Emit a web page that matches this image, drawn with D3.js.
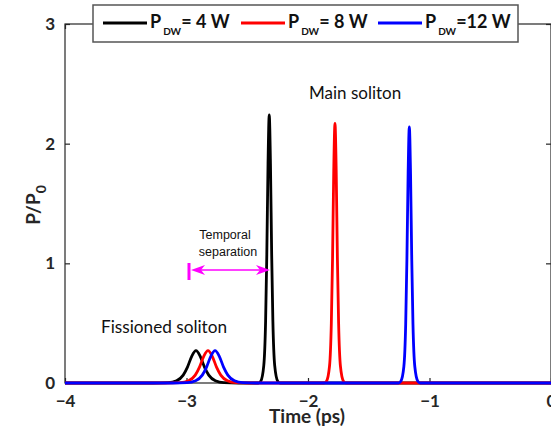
<!DOCTYPE html>
<html><head><meta charset="utf-8">
<script src="https://cdn.jsdelivr.net/npm/d3@7"></script>
<style>body{margin:0;background:#fff}svg{display:block}</style>
</head><body><div id="chart"></div>
<script>
// Data: [time (ps), P/P0]
const seriesBlack = [[-4,0],[-3.272,0],[-3.152,0.003],[-3.082,0.019],[-3.027,0.066],[-2.992,0.133],[-2.957,0.223],[-2.922,0.27],[-2.887,0.223],[-2.852,0.133],[-2.817,0.066],[-2.762,0.019],[-2.692,0.003],[-2.572,0],
  [-2.409,0],[-2.389,0.015],[-2.364,0.145],[-2.349,0.515],[-2.339,1.075],[-2.329,1.835],[-2.319,2.24],[-2.309,1.835],[-2.299,1.075],[-2.289,0.515],[-2.274,0.145],[-2.249,0.015],[-2.229,0],[0,0]];
const seriesRed = [[-4,0],[-3.173,0],[-3.053,0.003],[-2.983,0.019],[-2.928,0.066],[-2.893,0.133],[-2.858,0.223],[-2.823,0.27],[-2.788,0.223],[-2.753,0.133],[-2.718,0.066],[-2.663,0.019],[-2.593,0.003],[-2.473,0],
  [-1.868,0],[-1.848,0.015],[-1.823,0.14],[-1.808,0.50],[-1.798,1.04],[-1.788,1.78],[-1.778,2.17],[-1.768,1.78],[-1.758,1.04],[-1.748,0.50],[-1.733,0.14],[-1.708,0.015],[-1.688,0],[0,0]];
const seriesBlue = [[-4,0],[-3.115,0],[-2.995,0.003],[-2.925,0.019],[-2.870,0.066],[-2.835,0.133],[-2.800,0.223],[-2.765,0.27],[-2.730,0.223],[-2.695,0.133],[-2.660,0.066],[-2.605,0.019],[-2.535,0.003],[-2.415,0],
  [-1.256,0],[-1.236,0.015],[-1.211,0.138],[-1.196,0.49],[-1.186,1.03],[-1.176,1.75],[-1.166,2.14],[-1.156,1.75],[-1.146,1.03],[-1.136,0.49],[-1.121,0.138],[-1.096,0.015],[-1.076,0],[0,0]];
const seriesNames = ["= 4 W","= 8 W","=12 W"];
const seriesColors = ["#000000","#ff0000","#0000ff"];
const xTicks = [-4,-3,-2,-1,0];
const yTicks = [0,1,2,3];

const W = 551, H = 432;
const m = {left:65, right:0, top:24, bottom:49};
const svg = d3.select("#chart").append("svg").attr("width",W).attr("height",H);
const x = d3.scaleLinear().domain([-4,0]).range([m.left, W-m.right]);
const y = d3.scaleLinear().domain([0,3]).range([H-m.bottom, m.top]);
const axisColor = "#262626";
const font = "Lato, 'Open Sans', sans-serif";

// frame
const g = svg.append("g");
g.append("rect").attr("x",x(-4)).attr("y",y(3)).attr("width",x(0)-x(-4)).attr("height",y(0)-y(3))
  .attr("fill","none").attr("stroke",axisColor).attr("stroke-width",1.2);

// axes via d3
const xAxis = d3.axisBottom(x).tickValues(xTicks).tickSize(-5).tickPadding(10).tickFormat(d3.format("d"));
const yAxis = d3.axisLeft(y).tickValues(yTicks).tickSize(-5).tickPadding(10).tickFormat(d3.format("d"));
const xa = svg.append("g").attr("transform",`translate(0,${y(0)})`).call(xAxis);
const ya = svg.append("g").attr("transform",`translate(${x(-4)},0)`).call(yAxis);
const ra = svg.append("g").attr("transform",`translate(${x(0)},0)`).call(d3.axisRight(y).tickValues(yTicks).tickSize(-5).tickFormat(""));
const ta = svg.append("g").attr("transform",`translate(0,${y(3)})`).call(d3.axisTop(x).tickValues(xTicks).tickSize(-5).tickFormat(""));
[xa,ya,ra,ta].forEach(a=>{
  a.select(".domain").remove();
  a.selectAll(".tick line").attr("stroke",axisColor).attr("stroke-width",1.2);
  a.selectAll(".tick text").attr("fill",axisColor).attr("font-family",font).attr("font-weight","bold").attr("font-size",17);
});
xa.selectAll(".tick text").attr("dy","0.71em").attr("y",12);

// lines
const line = d3.line().x(d=>x(d[0])).y(d=>y(d[1])).curve(d3.curveMonotoneX);
[seriesBlack, seriesRed, seriesBlue].forEach((s,i)=>{
  svg.append("path").datum(s).attr("d",line).attr("fill","none")
    .attr("stroke",seriesColors[i]).attr("stroke-width",2.8).attr("stroke-linejoin","round");
});

// axis labels
svg.append("text").attr("x",307).attr("y",423).attr("text-anchor","middle")
  .attr("font-family",font).attr("font-weight","bold").attr("font-size",19).attr("fill",axisColor).text("Time (ps)");
const yl = svg.append("text").attr("transform","translate(40,205) rotate(-90)").attr("text-anchor","middle")
  .attr("font-family",font).attr("font-weight","bold").attr("font-size",19).attr("fill",axisColor);
yl.append("tspan").text("P/P");
yl.append("tspan").attr("dy",6).attr("font-size",14).text("0");

// annotations
svg.append("text").attr("x",309).attr("y",99).attr("font-family",font).attr("font-size",17).attr("fill","#111").text("Main soliton");
svg.append("text").attr("x",101).attr("y",333).attr("font-family",font).attr("font-size",17.2).attr("fill","#111").text("Fissioned soliton");
svg.append("text").attr("x",225).attr("y",239).attr("text-anchor","middle").attr("font-family","'Liberation Sans', Arial, sans-serif").attr("font-size",12.5).attr("fill","#111").text("Temporal");
svg.append("text").attr("x",228).attr("y",256).attr("text-anchor","middle").attr("font-family","'Liberation Sans', Arial, sans-serif").attr("font-size",12.5).attr("fill","#111").text("separation");

// arrow
const mag = "#ff00ff";
const ay = 270, ax1 = 191, ax2 = 270;
svg.append("line").attr("x1",189).attr("x2",189).attr("y1",263).attr("y2",280).attr("stroke",mag).attr("stroke-width",3);
svg.append("line").attr("x1",ax1+4).attr("x2",ax2-4).attr("y1",ay).attr("y2",ay).attr("stroke",mag).attr("stroke-width",1.5);
svg.append("path").attr("d",`M${ax1},${ay} L${ax1+14},${ay-5} L${ax1+10},${ay} L${ax1+14},${ay+5} Z`).attr("fill",mag);
svg.append("path").attr("d",`M${ax2},${ay} L${ax2-14},${ay-5} L${ax2-10},${ay} L${ax2-14},${ay+5} Z`).attr("fill",mag);

// legend
const lg = svg.append("g");
lg.append("rect").attr("x",93).attr("y",5).attr("width",425).attr("height",37).attr("fill","#fff").attr("stroke","#555").attr("stroke-width",1.5);
const lx = [103,241,378];
seriesNames.forEach((n,i)=>{
  lg.append("line").attr("x1",lx[i]).attr("x2",lx[i]+44).attr("y1",23).attr("y2",23).attr("stroke",seriesColors[i]).attr("stroke-width",2.8);
  const t = lg.append("text").attr("x",lx[i]+47).attr("y",28).attr("font-family",font).attr("font-weight","bold").attr("font-size",18).attr("fill","#111");
  t.append("tspan").text("P");
  t.append("tspan").attr("dx",2).attr("dy",7).attr("font-size",10).text("DW");
  t.append("tspan").attr("dy",-7).text(n);
});
</script></body></html>
